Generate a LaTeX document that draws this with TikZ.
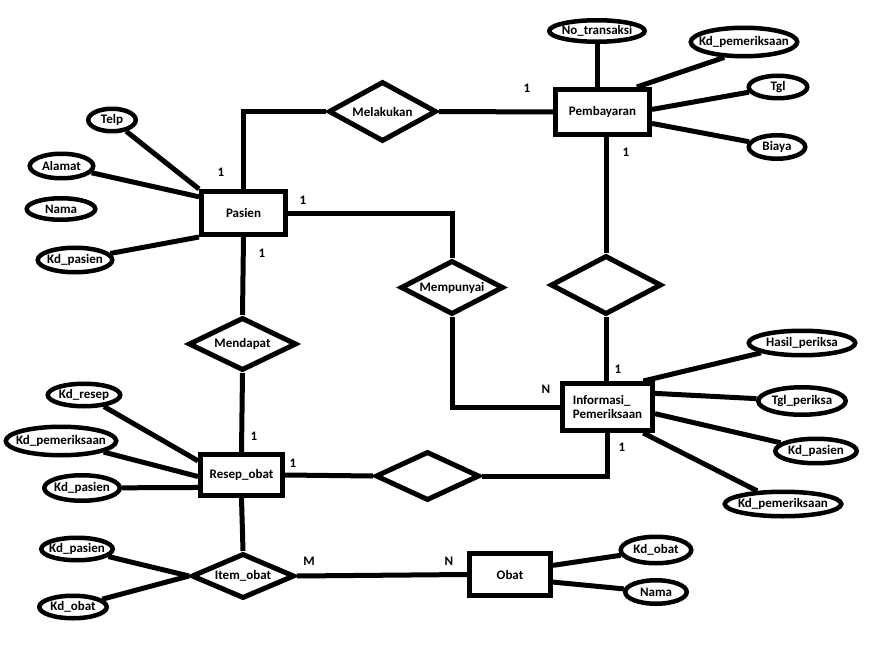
\documentclass[tikz,border=0pt]{standalone}
\usepackage{fontspec}
\setmainfont{Carlito}
\usetikzlibrary{shapes.geometric}
\begin{document}
\begin{tikzpicture}[x=1pt,y=-1pt,
  every node/.style={font=\fontsize{13}{14}\selectfont\bfseries, text=black},
  ent/.style={draw, rectangle, line width=5pt, inner sep=0pt},
  rel/.style={draw, diamond, aspect=1.8, line width=5pt, inner sep=0pt},
  attr/.style={draw, ellipse, line width=4.5pt, inner sep=0pt},
  conn/.style={line width=5pt},
  card/.style={inner sep=0pt}
]
\fill[white] (0,0) rectangle (871,661);
\useasboundingbox (0,0) rectangle (871,661);

% entities
\node[ent, minimum width=84pt, minimum height=43pt] (pasien) at (243.5,213) {Pasien};
\node[ent, minimum width=94pt, minimum height=45pt] (pembayaran) at (602.5,112) {Pembayaran};
\node[ent, minimum width=90pt, minimum height=47pt, align=left] (info) at (607.5,407) {Informasi\_\\Pemeriksaan};
\node[ent, minimum width=82pt, minimum height=41pt] (resep) at (241.5,475) {Resep\_obat};
\node[ent, minimum width=81pt, minimum height=42pt] (obat) at (510,574.5) {Obat};

% relationships
\node[rel, minimum width=108pt, minimum height=60pt] (melakukan) at (382.5,111.5) {Melakukan};
\node[rel, minimum width=103pt, minimum height=54pt] (mempunyai) at (452,287.5) {Mempunyai};
\node[rel, minimum width=111pt, minimum height=59pt] (rd) at (606,285) {};
\node[rel, minimum width=108pt, minimum height=53pt] (mendapat) at (242.5,344) {Mendapat};
\node[rel, minimum width=104pt, minimum height=49pt] (ld) at (427.5,476) {};
\node[rel, minimum width=103pt, minimum height=45pt] (item) at (243,576) {Item\_obat};

% attributes
\node[attr, minimum width=47.5pt, minimum height=22.5pt, label=center:Telp] (telp) at (112,120) {};
\node[attr, minimum width=63.5pt, minimum height=24.5pt, label=center:Alamat] (alamat) at (61.5,166) {};
\node[attr, minimum width=68.5pt, minimum height=21.5pt, label=center:Nama] (nama) at (61,209) {};
\node[attr, minimum width=74.5pt, minimum height=24.5pt, label=center:Kd\_pasien] (kdpasien1) at (75,260) {};

\node[attr, minimum width=95.5pt, minimum height=21.5pt, label=center:No\_transaksi] (notrans) at (597,31) {};
\node[attr, minimum width=106.5pt, minimum height=28.5pt, label=center:Kd\_pemeriksaan] (kdpem1) at (744,42) {};
\node[attr, minimum width=58.5pt, minimum height=22.5pt, label=center:Tgl] (tgl) at (778,87) {};
\node[attr, minimum width=56.5pt, minimum height=23.5pt, label=center:Biaya] (biaya) at (777,147) {};

\node[attr, minimum width=106.5pt, minimum height=24.5pt, label=center:Hasil\_periksa] (hasil) at (802,343) {};
\node[attr, minimum width=87.5pt, minimum height=27.5pt, label=center:Tgl\_periksa] (tglperiksa) at (802,401) {};
\node[attr, minimum width=81.5pt, minimum height=24.5pt, label=center:Kd\_pasien] (kdpasien3) at (816,451) {};
\node[attr, minimum width=116.5pt, minimum height=24.5pt, label=center:Kd\_pemeriksaan] (kdpem3) at (783,504) {};

\node[attr, minimum width=72.5pt, minimum height=22.5pt, label=center:Kd\_resep] (kdresep) at (84,395) {};
\node[attr, minimum width=110.5pt, minimum height=28.5pt, label=center:Kd\_pemeriksaan] (kdpem2) at (61,441) {};
\node[attr, minimum width=75.5pt, minimum height=25.5pt, label=center:Kd\_pasien] (kdpasien2) at (82,488) {};
\node[attr, minimum width=71.5pt, minimum height=22.5pt, label=center:Kd\_pasien] (kdpasien4) at (77,549) {};
\node[attr, minimum width=67.5pt, minimum height=22.5pt, label=center:Kd\_obat] (kdobat1) at (73,607) {};

\node[attr, minimum width=70.5pt, minimum height=26.5pt, label=center:Kd\_obat] (kdobat2) at (656,550) {};
\node[attr, minimum width=61.5pt, minimum height=23.5pt, label=center:Nama] (namaobat) at (656,592) {};

% relationship connectors
\draw[conn] (pasien.north) |- (melakukan.west);
\draw[conn] (melakukan.east) -- (pembayaran.west);
\draw[conn] (pasien.east) -| (mempunyai.north);
\draw[conn] (mempunyai.south) |- (info.west);
\draw[conn] (rd.north |- pembayaran.south) -- (rd.north);
\draw[conn] (rd.south) -- (rd.south |- info.north);
\draw[conn] (pasien.south) -- (mendapat.north);
\draw[conn] (mendapat.south) -- (resep.north);
\draw[conn] (resep.south) -- (item.north);
\draw[conn] (resep.east) -- (ld.west);
\draw[conn] (ld.east) -| (info.south);
\draw[conn] (item.east) -- (obat.west);

% attribute connectors
\draw[conn] (telp) -- (pasien.north west);
\draw[conn] (alamat) -- (pasien.160);
\draw[conn] (kdpasien1) -- (pasien.south west);

\draw[conn] (notrans) -- (notrans |- pembayaran.north);
\draw[conn] (kdpem1.218) -- (pembayaran.36);
\draw[conn] (tgl) -- (pembayaran.3);
\draw[conn] (biaya) -- (pembayaran.-13);

\draw[conn] (hasil) -- (info.36);
\draw[conn] (tglperiksa) -- (info.16);
\draw[conn] (kdpasien3) -- (info.-8);
\draw[conn] (kdpem3) -- (info.-36);

\draw[conn] (kdresep) -- (resep.162);
\draw[conn] (kdpem2) -- (resep.182);
\draw[conn] (kdpasien2) -- (resep.196);

\draw[conn] (kdpasien4) -- (item.west);
\draw[conn] (kdobat1) -- (item.west);

\draw[conn] (kdobat2) -- (obat.12);
\draw[conn] (namaobat) -- (obat.-10);

% cardinalities
\node[card] (c1) at (221,172) {1};
\node[card] (c2) at (262,253) {1};
\node[card] (c3) at (303,200) {1};
\node[card] (c4) at (527,88) {1};
\node[card] (c5) at (626,152) {1};
\node[card] (c6) at (618,369) {1};
\node[card] (c7) at (546,389) {N};
\node[card] (c8) at (622,447) {1};
\node[card] (c9) at (254,436) {1};
\node[card] (c10) at (293,463) {1};
\node[card] (c11) at (309,561) {M};
\node[card] (c12) at (449,561) {N};
\end{tikzpicture}
\end{document}
